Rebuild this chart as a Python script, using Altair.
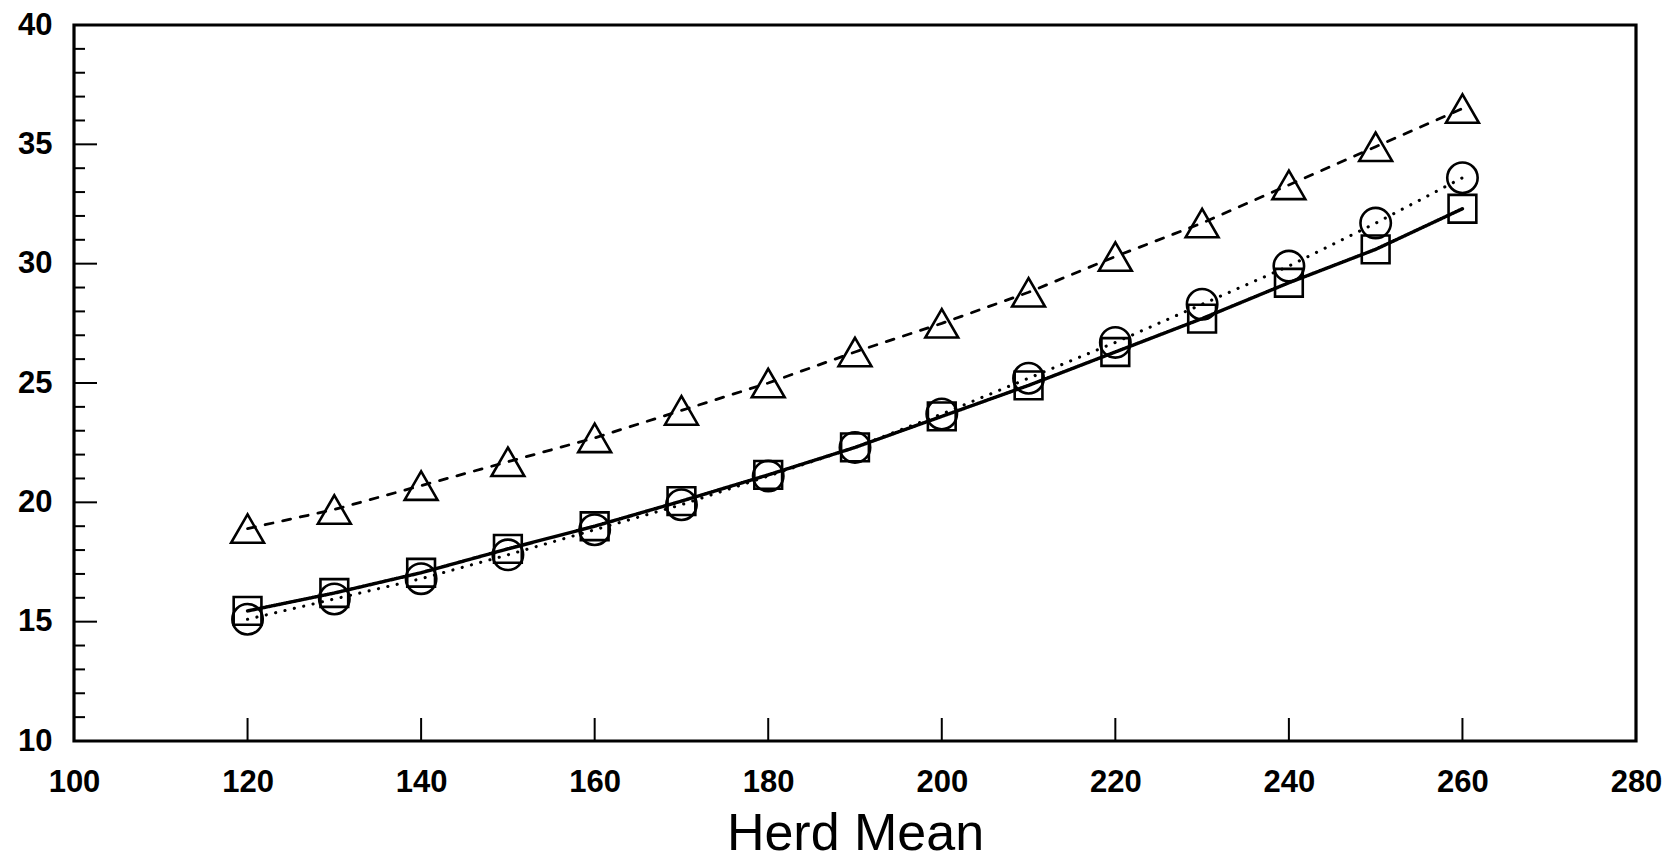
import altair as alt
import pandas as pd

# ---- data ----
herd_mean = [120, 130, 140, 150, 160, 170, 180, 190, 200, 210, 220, 230, 240, 250, 260]
triangle_vals = [18.9, 19.7, 20.7, 21.7, 22.7, 23.85, 25.0, 26.3, 27.5, 28.8, 30.3, 31.7, 33.3, 34.9, 36.5]
circle_vals = [15.1, 15.95, 16.8, 17.8, 18.85, 19.9, 21.1, 22.3, 23.7, 25.2, 26.7, 28.3, 29.9, 31.7, 33.6]
square_vals = [15.45, 16.2, 17.05, 18.05, 19.0, 20.05, 21.15, 22.3, 23.6, 24.9, 26.3, 27.7, 29.2, 30.6, 32.3]

series_names = ["triangle", "circle", "square"]
x_tick_values = [100, 120, 140, 160, 180, 200, 220, 240, 260, 280]
y_tick_values = [10, 15, 20, 25, 30, 35, 40]
y_major_inner = [15, 20, 25, 30, 35]
y_minor = [v for v in range(11, 40) if v % 5 != 0]
x_major_inner = [120, 140, 160, 180, 200, 220, 240, 260]

rows = []
for name, vals in zip(series_names, [triangle_vals, circle_vals, square_vals]):
    for xv, yv in zip(herd_mean, vals):
        rows.append({"x": xv, "y": yv, "series": name})
df = pd.DataFrame(rows)

W, H = 1562, 716

x_scale = alt.Scale(domain=[100, 280], nice=False, zero=False)
y_scale = alt.Scale(domain=[10, 40], nice=False, zero=False)
x_axis = alt.Axis(values=x_tick_values, title="Herd Mean", labelFontSize=31,
                  labelFontWeight="bold", labelFlush=False,
                  labelPadding=26, titleFontSize=52, titleFontWeight="normal",
                  titlePadding=11, ticks=False, tickSize=0, domain=False, grid=False)
y_axis = alt.Axis(values=y_tick_values, title=None, labelFontSize=31,
                  labelFontWeight="bold", labelFlush=False,
                  labelPadding=22, ticks=False, tickSize=0, domain=False, grid=False)

X = alt.X("x:Q", scale=x_scale, axis=x_axis)
Y = alt.Y("y:Q", scale=y_scale, axis=y_axis)

dash_scale = alt.Scale(domain=series_names, range=[[8, 10], [0.1, 9.5], [1, 0]])
width_scale = alt.Scale(domain=series_names, range=[2.8, 3.4, 2.8])
shape_scale = alt.Scale(domain=series_names, range=["triangle-up", "circle", "square"])
size_scale = alt.Scale(domain=series_names, range=[1080, 770, 590])

lines = alt.Chart(df).mark_line(color="black", strokeCap="round").encode(
    x=X, y=Y,
    strokeDash=alt.StrokeDash("series:N", scale=dash_scale, legend=None),
    size=alt.Size("series:N", scale=width_scale, legend=None),
    detail="series:N",
)

points = alt.Chart(df).mark_point(filled=False, color="black", strokeWidth=2.6, opacity=1).encode(
    x=X, y=Y,
    shape=alt.Shape("series:N", scale=shape_scale, legend=None),
    size=alt.Size("series:N", scale=size_scale, legend=None),
)

ymaj = alt.Chart(pd.DataFrame({"y": y_major_inner})).mark_rule(color="black", strokeWidth=2).encode(
    y=Y, x=alt.value(0), x2=alt.value(23)
)
ymin = alt.Chart(pd.DataFrame({"y": y_minor})).mark_rule(color="black", strokeWidth=2).encode(
    y=Y, x=alt.value(0), x2=alt.value(11)
)
xmaj = alt.Chart(pd.DataFrame({"x": x_major_inner})).mark_rule(color="black", strokeWidth=2).encode(
    x=X, y=alt.value(H), y2=alt.value(H - 23)
)

chart = alt.layer(ymaj, ymin, xmaj, lines, points).resolve_scale(size="independent").properties(
    width=W, height=H,
    padding={"left": 66, "top": 17, "right": 26, "bottom": 122},
    autosize=alt.AutoSizeParams(type="none"),
    background="white",
).configure_view(
    stroke="black", strokeWidth=3.2
).configure_axis(
    labelFont="Liberation Sans", titleFont="Liberation Sans",
    labelColor="black", titleColor="black",
)

chart.save("out.html", embed_options={"renderer": "svg", "actions": False})
